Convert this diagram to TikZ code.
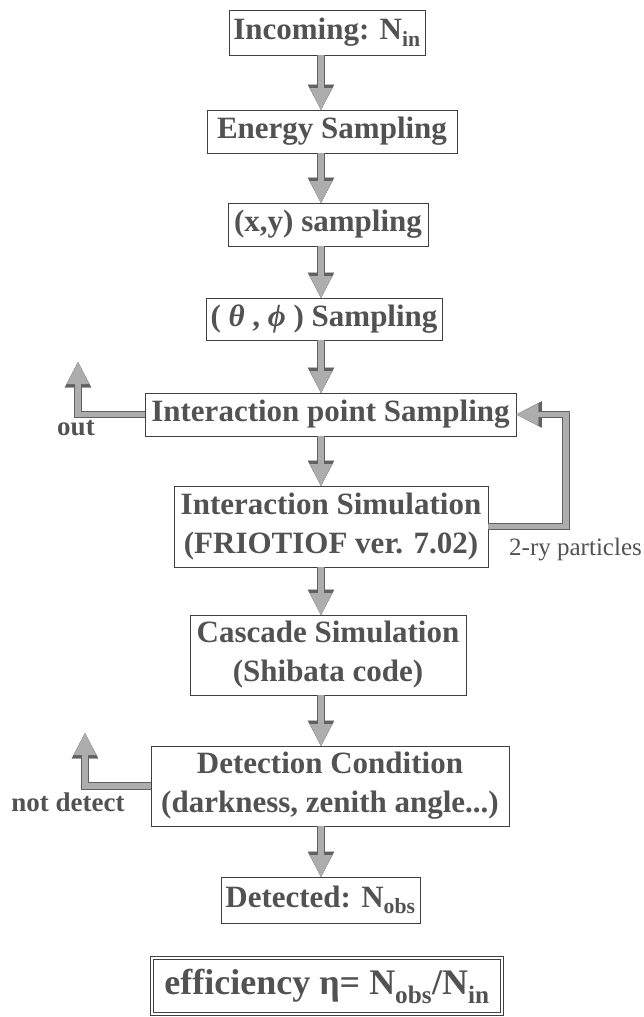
\documentclass[tikz,border=0pt]{standalone}
\usepackage{fontspec}
\setmainfont{Liberation Serif}
\usetikzlibrary{arrows.meta}
\begin{document}
\begin{tikzpicture}[x=1pt,y=-1pt,
 box/.style={draw=black!75, line width=0.9pt, rectangle, inner sep=0pt, align=center, text=black!68, font=\fontsize{31}{39}\selectfont\bfseries},
 lbl/.style={text=black!68, font=\fontsize{27}{30}\selectfont\bfseries, inner sep=0pt},
 flow/.style={line width=5.5pt, draw=black!32, line join=miter,
   -{Triangle[width=22pt,length=22pt,line width=0.1pt]},
   preaction={draw=black!62, line width=7.6pt, line join=miter, -{Triangle[width=26.5pt,length=25.5pt,line width=0.1pt]}}},
]
\useasboundingbox (0,0) rectangle (644,1017);
\node[box, minimum width=196pt, minimum height=45pt] (in) at (327,32.5) {Incoming: N\textsubscript{in}};
\node[box, minimum width=250pt, minimum height=43pt] (en) at (332,131.5) {Energy Sampling};
\node[box, minimum width=200pt, minimum height=43pt] (xy) at (328,224.5) {(x,y) sampling};
\node[box, minimum width=236pt, minimum height=42pt] (th) at (324,319) {( \textit{θ} , \textit{ϕ} ) Sampling};
\node[box, minimum width=371pt, minimum height=43pt] (ips) at (330.5,414.5) {Interaction point Sampling};
\node[box, minimum width=314pt, minimum height=81pt] (is) at (331,526.5) {Interaction Simulation\\(FRIOTIOF ver. 7.02)};
\node[box, minimum width=276pt, minimum height=80pt] (cas) at (328,655) {Cascade Simulation\\(Shibata code)};
\node[box, minimum width=358pt, minimum height=80pt] (det) at (330,786) {Detection Condition\\(darkness, zenith angle...)};
\node[box, minimum width=199pt, minimum height=46pt] (obs) at (320.5,900) {Detected: N\textsubscript{obs}};
\node[box, minimum width=350pt, minimum height=56pt, double, double distance=2.5pt, line width=1.1pt, font=\fontsize{36}{40}\selectfont\bfseries] (eff) at (327,986) {efficiency η= N\textsubscript{obs}/N\textsubscript{in}};

\node[lbl] (lout) at (76,428) {out};
\node[lbl, anchor=east, font=\fontsize{25}{28}\selectfont] (lry) at (642,550) {2-ry particles};
\node[lbl] (lnd) at (68,802) {not detect};

\coordinate (outtip) at (78,362);
\coordinate (ndtip) at (85,733);
\coordinate (fbx) at (566,0);

\draw[flow] (321,55) -- (321,110);
\draw[flow] (321,153) -- (321,203);
\draw[flow] (321,246) -- (321,298);
\draw[flow] (321,340) -- (321,393);
\draw[flow] (321,436) -- (321,486);
\draw[flow] (321,567) -- (321,615);
\draw[flow] (321,695) -- (321,746);
\draw[flow] (321,826) -- (321,877);

\draw[flow] (ips.west) -| (outtip);
\draw[flow] (det.west) -| (ndtip);
\draw[flow] (is.east) -- (is.east -| fbx) |- (ips.east);
\end{tikzpicture}
\end{document}
